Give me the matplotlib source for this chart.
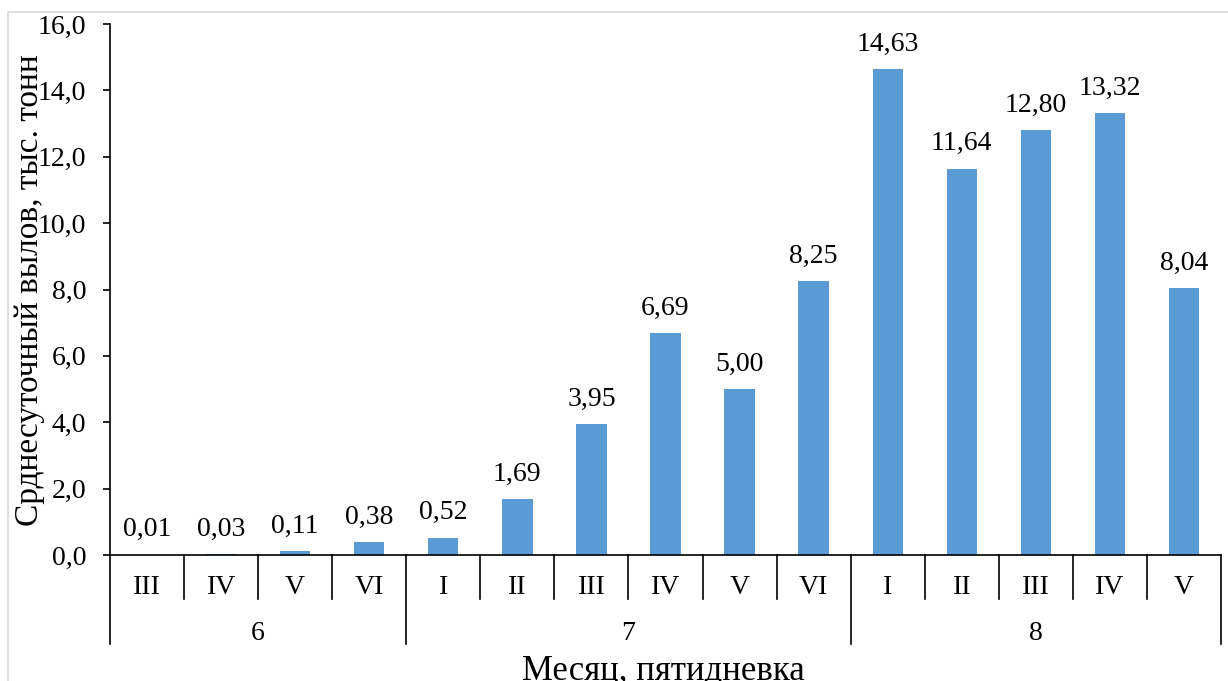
import matplotlib.pyplot as plt
from matplotlib.patches import Rectangle
import matplotlib.transforms as mtransforms
import numpy as np

plt.rcParams['font.family'] = ['Liberation Serif', 'DejaVu Serif']

# pentad labels within each month and the daily catch values
pentads = ['III', 'IV', 'V', 'VI', 'I', 'II', 'III', 'IV', 'V', 'VI',
           'I', 'II', 'III', 'IV', 'V']
months = ['6', '7', '8']
month_sizes = [4, 6, 5]
catch = [0.01, 0.03, 0.11, 0.38, 0.52, 1.69, 3.95, 6.69, 5.00, 8.25,
         14.63, 11.64, 12.80, 13.32, 8.04]

W, H = 1228, 681
fig = plt.figure(figsize=(W / 100, H / 100), dpi=100)
ax = fig.add_axes([110 / W, 1 - 555 / H, (1221 - 110) / W, (555 - 24) / H])

# outer chart-area frame
fig.patches.append(Rectangle((8 / W, -0.1), 1.2, 1 - 12 / H + 0.1,
                             transform=fig.transFigure, fill=False,
                             edgecolor='#d9d9d9', linewidth=1.2))

x = np.arange(len(catch))
ax.bar(x, catch, width=0.41, color='#5b9bd5')
for xi, v in zip(x, catch):
    ax.annotate(f'{v:.2f}'.replace('.', ','), (xi, v), xytext=(0, 9),
                textcoords='offset points', ha='center', va='bottom',
                fontsize=20)

ax.set_xlim(-0.5, len(catch) - 0.5)
ax.set_ylim(0, 16)
yt = np.arange(0, 17, 2)
ax.set_yticks(yt)
ax.set_yticklabels([f'{t:.1f}'.replace('.', ',') for t in yt], fontsize=20)
ax.tick_params(axis='y', length=5, width=1.2, direction='out', pad=12)
ax.set_xticks([])
for s in ['top', 'right']:
    ax.spines[s].set_visible(False)
ax.spines['left'].set_linewidth(1.2)
ax.spines['bottom'].set_linewidth(1.2)

# two-level category axis below the plot, offsets in pixels from y=0
px = 16 / (555 - 24)
group_edges = np.cumsum([0] + month_sizes) - 0.5
for e in np.arange(-0.5, len(catch)):
    low = -89 * px if e in group_edges else -44 * px
    ax.plot([e, e], [0, low], color='black', lw=1.2, clip_on=False)
for xi, lab in zip(x, pentads):
    ax.text(xi, -32 * px, lab, ha='center', va='center', fontsize=20)
for i, m in enumerate(months):
    mid = (group_edges[i] + group_edges[i + 1]) / 2
    ax.text(mid, -78 * px, m, ha='center', va='center', fontsize=20)

fig_px = mtransforms.Affine2D().scale(1 / W, -1 / H).translate(0, 1) + fig.transFigure
fig.text(663, 680, 'Месяц, пятидневка', ha='center', va='baseline',
         fontsize=25, transform=fig_px)
fig.text(30, 290, 'Срднесуточный вылов, тыс. тонн', rotation=90,
         ha='center', va='center', fontsize=24, transform=fig_px)

fig.savefig('out.png', dpi=100)
